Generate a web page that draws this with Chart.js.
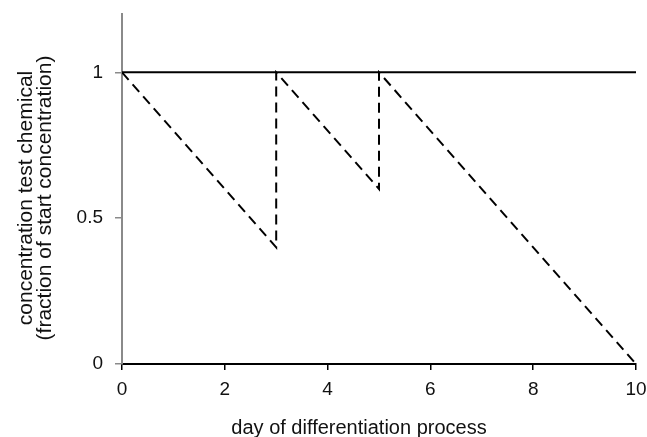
<!DOCTYPE html>
<html>
<head>
<meta charset="utf-8">
<script src="https://cdn.jsdelivr.net/npm/chart.js@4/dist/chart.umd.min.js"></script>
<style>
  html, body { margin: 0; padding: 0; background: #fff; }
  #wrap { width: 647px; height: 437px; }
</style>
</head>
<body>
<div id="wrap"><canvas id="c" width="647" height="437"></canvas></div>
<script>
// Day of the differentiation process and test-chemical concentration
// (as a fraction of the start concentration).
const constantDays = [0, 10];
const constantConc = [1, 1];
const decayDays = [0, 3, 3, 5, 5, 10];
const decayConc = [1, 0.4, 1, 0.6, 1, 0];

const xTickValues = [0, 2, 4, 6, 8, 10];
const yTickValues = [0, 0.5, 1];

const xTitle = 'day of differentiation process';
const yTitleLines = ['concentration test chemical', '(fraction of start concentration)'];

const FONT = '"Liberation Sans", Arial, sans-serif';

const toPoints = (xs, ys) => xs.map((x, i) => ({ x, y: ys[i] }));

// Axis titles are placed by hand so they sit where the figure has them.
const axisTitles = {
  id: 'axisTitles',
  afterDraw(chart) {
    const ctx = chart.ctx;
    ctx.save();
    ctx.fillStyle = '#111';
    ctx.textAlign = 'center';
    ctx.textBaseline = 'alphabetic';
    ctx.font = '20px ' + FONT;
    ctx.fillText(xTitle, 359, 434);
    ctx.font = '21px ' + FONT;
    ctx.translate(0, 198);
    ctx.rotate(-Math.PI / 2);
    ctx.fillText(yTitleLines[0], 0, 32);
    ctx.fillText(yTitleLines[1], 0, 51);
    ctx.restore();
  }
};

new Chart(document.getElementById('c'), {
  type: 'line',
  data: {
    datasets: [
      {
        data: toPoints(constantDays, constantConc),
        borderColor: '#000',
        borderWidth: 2,
        pointRadius: 0,
        fill: false,
        tension: 0
      },
      {
        data: toPoints(decayDays, decayConc),
        borderColor: '#000',
        borderWidth: 2,
        borderDash: [10, 6],
        pointRadius: 0,
        fill: false,
        tension: 0
      }
    ]
  },
  options: {
    responsive: false,
    animation: false,
    events: [],
    layout: { padding: { top: 14, right: 11, left: 0, bottom: 0 } },
    plugins: { legend: { display: false }, tooltip: { enabled: false }, title: { display: false } },
    scales: {
      x: {
        type: 'linear',
        min: 0,
        max: 10,
        afterBuildTicks: s => { s.ticks = xTickValues.map(v => ({ value: v })); },
        afterFit: s => { s.height = 73; s.paddingLeft = 0; s.paddingRight = 0; },
        border: { color: '#000', width: 2 },
        grid: { drawOnChartArea: false, drawTicks: true, tickLength: 6, color: '#000', lineWidth: 1.5 },
        ticks: { color: '#111', font: { family: FONT, size: 19 }, padding: 8, maxRotation: 0,
                 callback: v => String(v) }
      },
      y: {
        type: 'linear',
        min: 0,
        max: 1.2,
        afterBuildTicks: s => { s.ticks = yTickValues.map(v => ({ value: v })); },
        afterFit: s => { s.width = 122; s.paddingTop = 0; s.paddingBottom = 0; },
        border: { color: '#8a8a8a', width: 2 },
        grid: { drawOnChartArea: false, drawTicks: true, tickLength: 7, color: '#8a8a8a', lineWidth: 1.5 },
        ticks: { color: '#111', font: { family: FONT, size: 19 }, padding: 12,
                 callback: v => String(v) }
      }
    }
  },
  plugins: [axisTitles]
});
</script>
</body>
</html>
